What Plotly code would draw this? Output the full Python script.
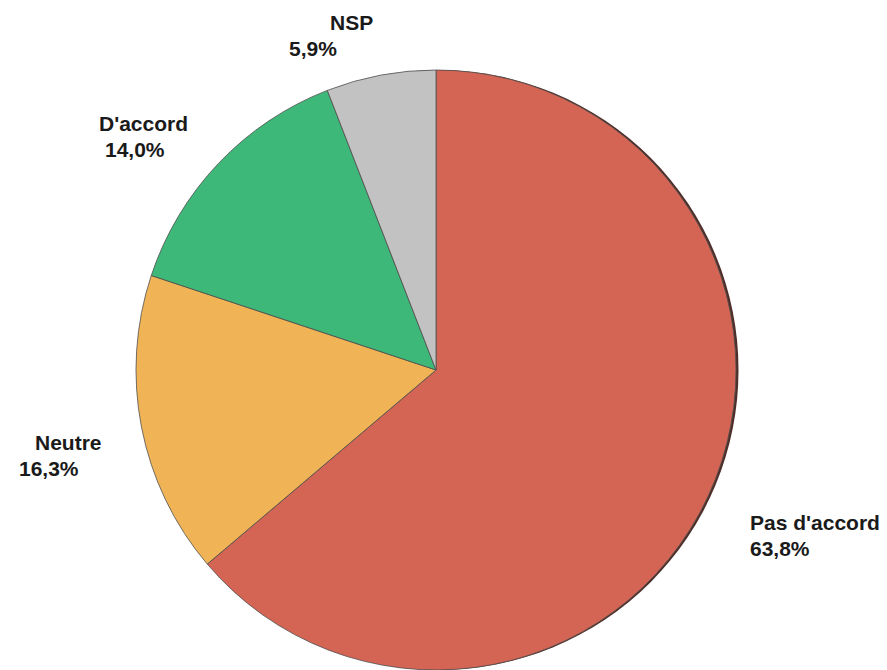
import plotly.graph_objects as go

# Survey answers, clockwise from 12 o'clock
labels = ["Pas d'accord", "Neutre", "D'accord", "NSP"]
values = [63.8, 16.3, 14.0, 5.9]
colors = ["#D46454", "#F0B356", "#3DB878", "#C2C2C2"]

W, H = 887, 670
T = 70                      # top margin in px; plot area spans y = 70..670
CX = 436                    # pie centre (px)
R = 300                     # pie radius (px)

def px_x(x):
    return x / W

def px_y(y):
    return (H - y) / (H - T)

x0, x1 = (CX - R) / W, (CX + R) / W

fig = go.Figure()

# thin drop shadow peeking out on the right-hand rim
fig.add_trace(go.Pie(
    values=[1], labels=["shadow"],
    marker=dict(colors=["#4E2E28"], line=dict(width=0)),
    textinfo="none", hoverinfo="skip", showlegend=False, sort=False,
    domain=dict(x=[x0 + 2.5 / W, x1 + 2.5 / W], y=[0, 1]),
))

fig.add_trace(go.Pie(
    values=values, labels=labels,
    marker=dict(colors=colors, line=dict(color="#505050", width=0.8)),
    textinfo="none", sort=False, direction="clockwise", rotation=0,
    showlegend=False,
    domain=dict(x=[x0, x1], y=[0, 1]),
))

# label text: (line, left x px, vertical centre y px)
label_lines = [
    ("NSP", 328, 23), ("5,9%", 287, 48),
    ("D'accord", 97, 123), ("14,0%", 103, 149),
    ("Neutre", 33, 442), ("16,3%", 17, 468),
    ("Pas d'accord", 748, 522), ("63,8%", 748, 548),
]
for txt, lx, ly in label_lines:
    fig.add_annotation(
        text=txt, x=px_x(lx), y=px_y(ly), xref="paper", yref="paper",
        xanchor="left", yanchor="middle", showarrow=False,
        font=dict(family="Liberation Sans, Arial, sans-serif", size=21,
                  color="#1a1a1a", weight="bold"),
    )

fig.update_layout(
    width=W, height=H,
    margin=dict(l=0, r=0, t=T, b=0),
    paper_bgcolor="white", plot_bgcolor="white",
)

fig.write_html("out.html")
